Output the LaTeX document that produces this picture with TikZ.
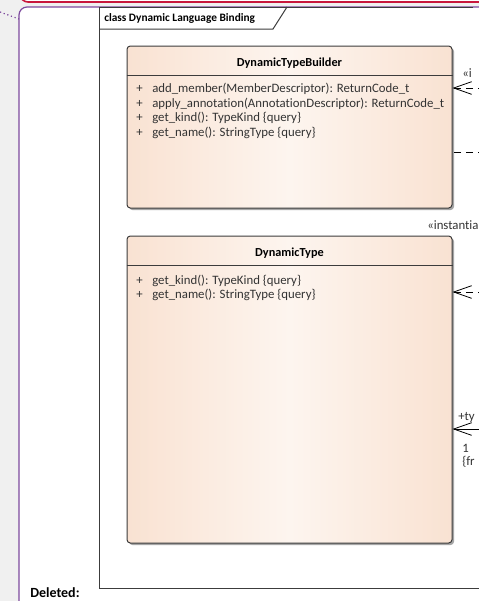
\documentclass[tikz,border=0pt]{standalone}
\usepackage{fontspec}
\setmainfont{Carlito}[Ligatures=NoCommon]
\usetikzlibrary{positioning,calc,fit,arrows.meta,shadows}

\definecolor{bggray}{HTML}{F0F0F0}
\definecolor{pkgred}{HTML}{C8163C}
\definecolor{pkgpurple}{HTML}{7D4A9E}
\definecolor{boxline}{HTML}{3C3C3C}
\definecolor{peach}{HTML}{F9E2D2}
\definecolor{peachlight}{HTML}{FDF5EF}
\definecolor{optext}{HTML}{333333}

\newcommand{\umlop}[1]{\makebox[12pt][l]{+}#1}

\begin{document}
\begin{tikzpicture}[
    x=0.75pt, y=-0.75pt,
    classbox/.style={draw=boxline, line width=0.75pt, rounded corners=2.5pt, inner sep=0pt,
        left color=peach, right color=peach, middle color=peachlight,
        drop shadow={shadow xshift=1.5pt, shadow yshift=-1.5pt, fill=black!35, opacity=1}},
    classtitle/.style={font=\fontsize{9.2}{11}\selectfont\bfseries, inner sep=0pt},
    classop/.style={font=\fontsize{9.6}{11}\selectfont, text=optext, anchor=base west, inner sep=0pt},
    sepline/.style={draw=boxline, line width=0.6pt},
    edgelabel/.style={font=\fontsize{9.6}{11}\selectfont, text=optext, anchor=west, inner sep=0pt},
    openhead/.style={-{Straight Barb[length=13.5pt, width=9.5pt, line width=0.6pt]}},
    depline/.style={openhead, draw=black, line width=0.6pt, dash pattern=on 5pt off 4pt},
    assocline/.style={openhead, draw=black, line width=0.6pt},
    frameline/.style={draw=boxline, line width=0.75pt}
]
\useasboundingbox (0,0) rectangle (479,601);
\clip (0,0) rectangle (479,601);

% Background and packages
\fill[bggray] (0,0) rectangle (479,601);
\draw[pkgred, line width=1.2pt, fill=white, rounded corners=6pt] (20,-20) rectangle (520,2);
\draw[pkgpurple, line width=0.9pt, fill=white, rounded corners=6pt] (19,7) rectangle (520,640);
\coordinate (linkend) at (0,12);
\draw[pkgpurple, line width=0.9pt, dotted] (linkend) -- (19,19);

% Diagram frame
\draw[frameline] (473,7) -- (99,7) -- (99,588) -- (520,588);
\draw[frameline] (99,29) -- (273,29) -- (287,7);
\node[font=\fontsize{8.5}{10}\selectfont\bfseries, anchor=west, inner sep=0pt] (framelabel) at (104,18) {class Dynamic Language Binding};

% DynamicTypeBuilder
\node[classbox, fit={(127,46) (452,208)}] (builder) {};
\draw[sepline] ($(builder.north west)+(0,30)$) -- ($(builder.north east)+(0,30)$);
\node[classtitle] (buildertitle) at ($(builder.north)+(0,18)$) {DynamicTypeBuilder};
\node[classop] (bop1) at (136,92.5) {\umlop{add\_member(MemberDescriptor): ReturnCode\_t}};
\node[classop] (bop2) at (136,107) {\umlop{apply\_annotation(AnnotationDescriptor): ReturnCode\_t}};
\node[classop] (bop3) at (136,121.5) {\umlop{get\_kind(): TypeKind \{query\}}};
\node[classop] (bop4) at (136,136) {\umlop{get\_name(): StringType \{query\}}};

% DynamicType
\node[classbox, fit={(127,236) (452,543)}] (dyntype) {};
\draw[sepline] ($(dyntype.north west)+(0,30)$) -- ($(dyntype.north east)+(0,30)$);
\node[classtitle] (dyntypetitle) at ($(dyntype.north)+(0,18)$) {DynamicType};
\node[classop] (top1) at (136,284) {\umlop{get\_kind(): TypeKind \{query\}}};
\node[classop] (top2) at (136,298) {\umlop{get\_name(): StringType \{query\}}};

% Connectors coming in from the right
\coordinate (dep1) at (485,88);
\coordinate (dep2) at (485,152);
\coordinate (dep3) at (485,292);
\coordinate (assoc) at (485,429);

\draw[depline] (dep1) -- (dep1 -| builder.east);
\draw[draw=black, line width=0.6pt, dash pattern=on 5pt off 4pt] (dep2) -- (dep2 -| builder.east);
\draw[depline] (dep3) -- (dep3 -| dyntype.east);
\draw[assocline] (assoc) -- (assoc -| dyntype.east);

% Connector labels
\node[edgelabel] (dep1label) at (462,73) {«i};
\node[edgelabel] (instlabel) at (427,225) {«instantia};
\node[edgelabel] (rolelabel) at (458,417) {+ty};
\node[edgelabel] (multlabel) at (462,448) {1};
\node[edgelabel] (constrlabel) at (462,462) {\{fr};

% Status text
\node[font=\fontsize{10.5}{12}\selectfont\bfseries, anchor=base west, inner sep=0pt] (deleted) at (30,597.5) {Deleted:};

\end{tikzpicture}
\end{document}
